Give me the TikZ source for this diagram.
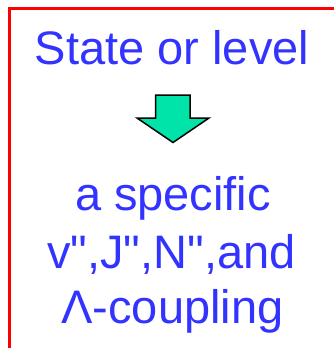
\documentclass[tikz,border=0pt]{standalone}
\usepackage{fontspec}
\newfontfamily\lblfont{Liberation Sans}[Ligatures=TeXOff]
\definecolor{txtblue}{RGB}{51,51,255}
\definecolor{arrgreen}{RGB}{0,228,170}
\definecolor{framered}{RGB}{255,0,0}
\begin{document}
\begin{tikzpicture}[x=1pt,y=-1pt,
  lbl/.style={anchor=base,inner sep=0pt,text=txtblue,font=\lblfont\fontsize{47}{47}\selectfont},
  frame/.style={draw=framered,line width=3pt},
  bigarrow/.style={fill=arrgreen,draw=black,line width=1.5pt,line join=miter}]
\useasboundingbox (0,0) rectangle (334,348);
\draw[frame] (9,348) -- (9,8.5) -- (334,8.5);
\node[lbl] (t1) at (172,64) {State or level};
\filldraw[bigarrow] (155.5,95) -- (190,95) -- (190,118) -- (209,118) -- (173,142.5) -- (137,118) -- (155.5,118) -- cycle;
\node[lbl] (t2) at (173,210) {a specific};
\node[lbl] (t3) at (171.5,268.5) {v",J",N",and};
\node[lbl] (t4) at (172.5,323) {Λ-coupling};
\end{tikzpicture}
\end{document}
